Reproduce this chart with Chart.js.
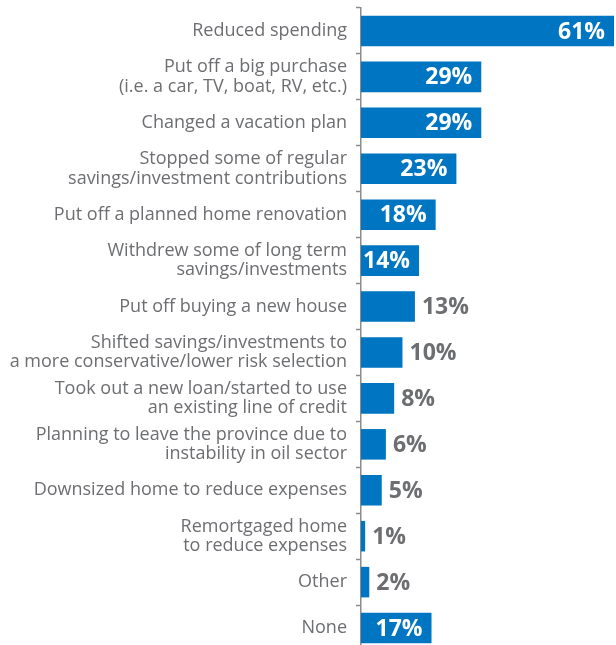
<!DOCTYPE html>
<html>
<head>
<meta charset="utf-8">
<script src="https://cdn.jsdelivr.net/npm/chart.js@4.4.1/dist/chart.umd.min.js"></script>
<style>
  html, body { margin: 0; padding: 0; background: #ffffff; overflow: hidden; }
  #wrap { position: relative; width: 616px; height: 660px; }
</style>
</head>
<body>
<div id="wrap"><canvas id="c" width="616" height="660"></canvas></div>
<script>
const categories = [
  ["Reduced spending"],
  ["Put off a big purchase", "(i.e. a car, TV, boat, RV, etc.)"],
  ["Changed a vacation plan"],
  ["Stopped some of regular", "savings/investment contributions"],
  ["Put off a planned home renovation"],
  ["Withdrew some of long term", "savings/investments"],
  ["Put off buying a new house"],
  ["Shifted savings/investments to", "a more conservative/lower risk selection"],
  ["Took out a new loan/started to use", "an existing line of credit"],
  ["Planning to leave the province due to", "instability in oil sector"],
  ["Downsized home to reduce expenses"],
  ["Remortgaged home", "to reduce expenses"],
  ["Other"],
  ["None"]
];
const values = [61, 29, 29, 23, 18, 14, 13, 10, 8, 6, 5, 1, 2, 17];
const valueLabels = ["61%", "29%", "29%", "23%", "18%", "14%", "13%", "10%", "8%", "6%", "5%", "1%", "2%", "17%"];

const BLUE = "#0075c1";
const GREY = "#6d6e71";

const valuePlugin = {
  id: "valueLabels",
  afterDatasetsDraw(chart) {
    const ctx = chart.ctx;
    const meta = chart.getDatasetMeta(0);
    ctx.save();
    ctx.font = "bold 23px 'Open Sans'";
    ctx.textBaseline = "middle";
    meta.data.forEach((bar, i) => {
      const v = values[i];
      const txt = valueLabels[i];
      if (v >= 14) {
        ctx.fillStyle = "#ffffff";
        ctx.textAlign = "right";
        ctx.fillText(txt, bar.x - 9, bar.y + 1);
      } else {
        ctx.fillStyle = GREY;
        ctx.textAlign = "left";
        ctx.fillText(txt, bar.x + 7, bar.y + 1);
      }
    });
    ctx.restore();
  }
};

new Chart(document.getElementById("c"), {
  type: "bar",
  data: {
    labels: categories,
    datasets: [{
      data: values,
      backgroundColor: BLUE,
      borderWidth: 0,
      barPercentage: 0.665,
      categoryPercentage: 1.0
    }]
  },
  options: {
    indexAxis: "y",
    responsive: false,
    animation: false,
    layout: { padding: { top: 8, bottom: 9, left: 0, right: 2 } },
    plugins: { legend: { display: false }, tooltip: { enabled: false } },
    scales: {
      x: {
        display: false,
        min: 0,
        max: 61
      },
      y: {
        afterFit(scale) {
          scale.width = 361;
          scale.paddingTop = 0;
          scale.paddingBottom = 0;
        },
        grid: {
          drawOnChartArea: false,
          drawTicks: true,
          tickLength: 5,
          tickWidth: 1.5,
          tickColor: "#8c8c8c",
          offset: true
        },
        border: { display: true, color: "#8c8c8c", width: 1.5 },
        ticks: {
          color: GREY,
          padding: 9,
          font: { family: "'Open Sans'", size: 18, lineHeight: 1.08 },
          autoSkip: false
        }
      }
    }
  },
  plugins: [valuePlugin]
});
</script>
</body>
</html>
